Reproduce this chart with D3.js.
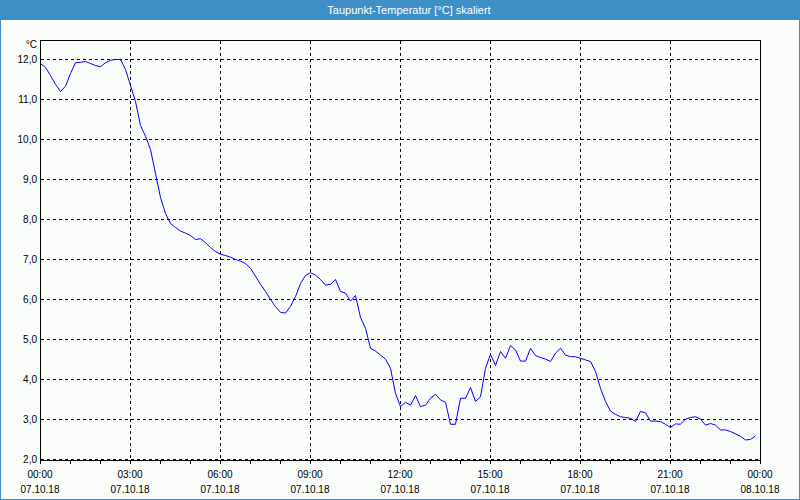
<!DOCTYPE html>
<html>
<head>
<meta charset="utf-8">
<script src="https://cdn.jsdelivr.net/npm/d3@7"></script>
<style>
  html, body { margin: 0; padding: 0; background: #fafcfa; }
  svg { display: block; }
  text { font-family: "Liberation Sans", Arial, sans-serif; }
</style>
</head>
<body>
<svg id="chart" width="800" height="500"></svg>
<script>
// ---- data ----
const chartTitle = "Taupunkt-Temperatur [°C] skaliert";
const unitLabel = "°C";
const startTime = "2018-10-07T00:00:00";
const stepMinutes = 10;
const dewPoint = [
  11.9, 11.8, 11.6, 11.38, 11.2, 11.33, 11.65, 11.92, 11.93, 11.95,
  11.9, 11.85, 11.82, 11.92, 11.98, 12.0, 12.0, 11.75, 11.35, 10.95,
  10.35, 10.08, 9.75, 9.15, 8.55, 8.15, 7.9, 7.8, 7.71, 7.66,
  7.6, 7.5, 7.52, 7.42, 7.3, 7.2, 7.13, 7.1, 7.06, 7.0,
  6.96, 6.9, 6.78, 6.58, 6.38, 6.2, 6.0, 5.82, 5.68, 5.66,
  5.83, 6.07, 6.4, 6.6, 6.67, 6.61, 6.5, 6.36, 6.38, 6.5,
  6.2, 6.16, 5.96, 6.1, 5.55, 5.28, 4.78, 4.71, 4.61, 4.51,
  4.28, 3.65, 3.32, 3.43, 3.36, 3.6, 3.32, 3.36, 3.53, 3.63,
  3.49, 3.43, 2.88, 2.88, 3.53, 3.53, 3.8, 3.45, 3.57, 4.28,
  4.63, 4.35, 4.7, 4.53, 4.85, 4.74, 4.46, 4.46, 4.78, 4.6,
  4.55, 4.51, 4.45, 4.66, 4.78, 4.61, 4.57, 4.57, 4.53, 4.49,
  4.45, 4.2, 3.78, 3.45, 3.21, 3.13, 3.07, 3.05, 3.03, 2.95,
  3.2, 3.17, 2.96, 2.96, 2.95, 2.88, 2.8, 2.89, 2.88, 3.01,
  3.05, 3.07, 3.01, 2.86, 2.9, 2.86, 2.74, 2.74, 2.7, 2.64,
  2.58, 2.49, 2.5, 2.59
];
const yTicks = [2, 3, 4, 5, 6, 7, 8, 9, 10, 11, 12];
const xTickHours = [0, 3, 6, 9, 12, 15, 18, 21, 24];
const timeLabels = ["00:00", "03:00", "06:00", "09:00", "12:00", "15:00", "18:00", "21:00", "00:00"];
const dateLabels = ["07.10.18", "07.10.18", "07.10.18", "07.10.18", "07.10.18", "07.10.18", "07.10.18", "07.10.18", "08.10.18"];

// ---- setup ----
const W = 800, H = 500;
const margin = { left: 40, right: 40, top: 40, bottom: 40 };
const svg = d3.select("#chart");
const t0 = new Date(startTime);
const t1 = d3.timeHour.offset(t0, 24);
const points = dewPoint.map((v, i) => ({ t: d3.timeMinute.offset(t0, i * stepMinutes), v }));

const x = d3.scaleTime().domain([t0, t1]).range([margin.left, W - margin.right]);
const y = d3.scaleLinear().domain([2, 12.5]).range([H - margin.bottom, margin.top]);
const fmt = d3.formatLocale({ decimal: ",", thousands: ".", grouping: [3], currency: ["", "€"] }).format(".1f");

// background
svg.append("rect").attr("width", W).attr("height", H).attr("fill", "#fafcfa");
// window border
svg.append("rect").attr("x", 0.5).attr("y", 0.5).attr("width", W - 1).attr("height", H - 1)
  .attr("fill", "none").attr("stroke", "#3d8fc6").attr("stroke-width", 1);
// title bar
svg.append("rect").attr("x", 0).attr("y", 0).attr("width", W).attr("height", 20).attr("fill", "#3d8fc6");
svg.append("text").attr("x", 409).attr("y", 14).attr("text-anchor", "middle")
  .attr("fill", "#ffffff").attr("font-size", "11px").text(chartTitle);

// grid lines
const grid = svg.append("g").attr("stroke", "#000").attr("stroke-width", 1)
  .attr("stroke-dasharray", "3,3").attr("shape-rendering", "crispEdges");
yTicks.forEach(v => {
  grid.append("line").attr("x1", margin.left + 1).attr("x2", W - margin.right)
    .attr("y1", y(v) - 0.5).attr("y2", y(v) - 0.5);
});
xTickHours.slice(1, -1).forEach(h => {
  const xx = x(d3.timeHour.offset(t0, h)) + 0.5;
  grid.append("line").attr("x1", xx).attr("x2", xx).attr("y1", margin.top + 1).attr("y2", H - margin.bottom);
});

// hourly ticks below axis
const ax = svg.append("g").attr("transform", `translate(0.5,${H - margin.bottom + 0.5})`)
  .call(d3.axisBottom(x).ticks(d3.timeHour.every(1)).tickSize(3).tickFormat(""));
ax.select(".domain").remove();
ax.selectAll("line").attr("stroke", "#000").attr("shape-rendering", "crispEdges").attr("transform", "translate(-0.5,0)");

// frame
svg.append("rect").attr("x", margin.left + 0.5).attr("y", margin.top + 0.5)
  .attr("width", W - margin.left - margin.right).attr("height", H - margin.top - margin.bottom)
  .attr("fill", "none").attr("stroke", "#000").attr("stroke-width", 1).attr("shape-rendering", "crispEdges");

// y labels
svg.append("g").selectAll("text").data(yTicks).join("text")
  .attr("x", 37).attr("y", d => y(d) + 3)
  .attr("text-anchor", "end").attr("font-size", "10px").attr("fill", "#000")
  .text(d => fmt(d));
svg.append("text").attr("x", 37).attr("y", 48).attr("text-anchor", "end")
  .attr("font-size", "10px").attr("fill", "#000").text(unitLabel);

// x labels
const xl = svg.append("g");
xTickHours.forEach((h, i) => {
  const xx = x(d3.timeHour.offset(t0, h));
  xl.append("text").attr("x", xx).attr("y", 477.5).attr("text-anchor", "middle")
    .attr("font-size", "10px").attr("fill", "#000").text(timeLabels[i]);
  xl.append("text").attr("x", xx).attr("y", 492.5).attr("text-anchor", "middle")
    .attr("font-size", "10px").attr("fill", "#000").text(dateLabels[i]);
});

// data line
const line = d3.line().x(d => x(d.t)).y(d => y(d.v));
svg.append("path").datum(points)
  .attr("transform", "translate(0.5,-0.5)")
  .attr("fill", "none").attr("stroke", "#0000ff").attr("stroke-width", 1)
  .attr("d", line);
</script>
</body>
</html>
